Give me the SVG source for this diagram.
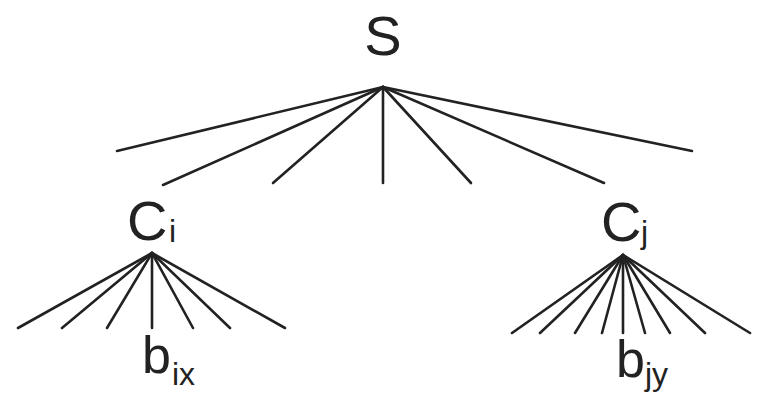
<svg xmlns="http://www.w3.org/2000/svg" width="759" height="396" viewBox="0 0 759 396">
<style>
.t{font-family:"Liberation Sans",Arial,sans-serif;fill:#222}
.big{font-size:56px}
.b{font-size:52px}
.sub{font-size:32px}
.e line{stroke:#222;stroke-width:2.6;stroke-linecap:round}
</style>
<rect width="759" height="396" fill="#fff"/>
<g id="connectors" class="e">
<line x1="383" y1="87" x2="117" y2="151"/>
<line x1="383" y1="87" x2="163" y2="185"/>
<line x1="383" y1="87" x2="273" y2="183"/>
<line x1="383" y1="87" x2="383" y2="183"/>
<line x1="383" y1="87" x2="471" y2="183"/>
<line x1="383" y1="87" x2="604" y2="183"/>
<line x1="383" y1="87" x2="692" y2="151"/>
<line x1="152" y1="253" x2="18" y2="328"/>
<line x1="152" y1="253" x2="62" y2="328"/>
<line x1="152" y1="253" x2="107" y2="328"/>
<line x1="152" y1="253" x2="152" y2="328"/>
<line x1="152" y1="253" x2="193" y2="328"/>
<line x1="152" y1="253" x2="230" y2="328"/>
<line x1="152" y1="253" x2="285" y2="328"/>
<line x1="623" y1="255" x2="512" y2="333"/>
<line x1="623" y1="255" x2="540" y2="333"/>
<line x1="623" y1="255" x2="575" y2="333"/>
<line x1="623" y1="255" x2="602" y2="333"/>
<line x1="623" y1="255" x2="623" y2="333"/>
<line x1="623" y1="255" x2="645" y2="333"/>
<line x1="623" y1="255" x2="670" y2="333"/>
<line x1="623" y1="255" x2="705" y2="333"/>
<line x1="623" y1="255" x2="750" y2="333"/>
</g>
<g id="S"><text class="t big" x="383" y="55" text-anchor="middle">S</text></g>
<g id="Ci"><text class="t big" x="127" y="240">C<tspan class="sub" x="169" y="242">i</tspan></text></g>
<g id="Cj"><text class="t big" x="601" y="241">C<tspan class="sub" x="641" y="243">j</tspan></text></g>
<g id="bix"><text class="t b" x="142" y="373">b<tspan class="sub" x="172" y="385">ix</tspan></text></g>
<g id="bjy"><text class="t b" x="616" y="377">b<tspan class="sub" x="645" y="385">jy</tspan></text></g>
</svg>
